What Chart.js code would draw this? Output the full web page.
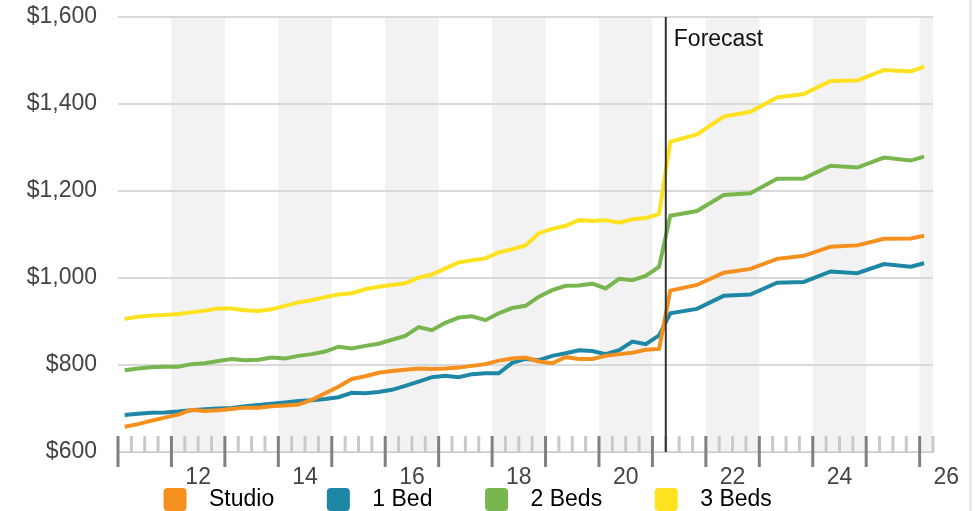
<!DOCTYPE html>
<html>
<head>
<meta charset="utf-8">
<script src="https://cdn.jsdelivr.net/npm/chart.js@4"></script>
<style>
  html, body { margin: 0; padding: 0; background: #fff; overflow: hidden; }
  #wrap { position: relative; width: 978px; height: 511px; overflow: hidden; }
  #edge { position: absolute; left: 969px; top: 0; width: 3px; height: 511px; background: #e9e9e9; }
</style>
</head>
<body>
<div id="wrap">
  <canvas id="rentChart" width="978" height="521"></canvas>
  <div id="edge"></div>
</div>
<script>
// periods as decimal years ('11 = 2011), quarterly history then half-yearly forecast
const periods = [
  11.125, 11.375, 11.625, 11.875, 12.125, 12.375, 12.625, 12.875,
  13.125, 13.375, 13.625, 13.875, 14.125, 14.375, 14.625, 14.875,
  15.125, 15.375, 15.625, 15.875, 16.125, 16.375, 16.625, 16.875,
  17.125, 17.375, 17.625, 17.875, 18.125, 18.375, 18.625, 18.875,
  19.125, 19.375, 19.625, 19.875, 20.125, 20.375, 20.625, 20.875, 21.125,
  21.333, 21.833, 22.333, 22.833, 23.333, 23.833, 24.333, 24.833, 25.333, 25.833, 26.083
];

const studio = [
  658, 664, 672, 679, 686, 697, 694, 696, 699, 702, 702, 705, 707, 709, 720, 735, 750, 768, 774, 782, 786,
  789, 792, 791, 792, 794, 798, 802, 810, 815, 817, 808, 804, 818, 814, 814, 821, 825, 828, 835, 837,
  971, 984, 1012, 1021, 1044, 1051, 1072, 1075, 1090, 1091, 1097
];
const oneBed = [
  685, 688, 690, 691, 693, 696, 698, 700, 701, 705, 708, 711, 714, 717, 719, 722, 726, 736, 735, 738, 743,
  752, 762, 772, 775, 772, 779, 781, 781, 805, 814, 811, 821, 827, 834, 832, 825, 834, 854, 848, 868,
  919, 929, 959, 962, 989, 991, 1015, 1011, 1032, 1026, 1034
];
const twoBeds = [
  788, 792, 795, 796, 796, 802, 804, 809, 814, 811, 812, 817, 815, 821, 825, 831, 842, 838, 844, 849, 858,
  867, 887, 880, 897, 909, 912, 903, 919, 931, 936, 957, 972, 982, 983, 987, 976, 998, 995, 1005, 1026,
  1143, 1154, 1191, 1195, 1228, 1229, 1258, 1254, 1277, 1270, 1279
];
const threeBeds = [
  906, 911, 914, 915, 917, 921, 925, 930, 930, 926, 924, 928, 936, 944, 949, 956, 962, 965, 974, 980, 984,
  988, 1001, 1008, 1022, 1036, 1041, 1045, 1059, 1066, 1075, 1103, 1113, 1120, 1133, 1131, 1133, 1127, 1135, 1138, 1147,
  1313, 1330, 1371, 1382, 1415, 1423, 1453, 1454, 1478, 1475, 1486
];

const seriesNames = ["Studio", "1 Bed", "2 Beds", "3 Beds"];
const seriesColors = ["#f5901f", "#1f87a6", "#7ab650", "#fee11f"];

const xMin = 11, xMax = 26.25;
const yearLabelsAt = [12.5, 14.5, 16.5, 18.5, 20.5, 22.5, 24.5, 26.5];
const shadedYears = [12, 14, 16, 18, 20, 22, 24, 26];
const yTicks = [600, 800, 1000, 1200, 1400, 1600];
const forecastStart = 21.25;

const FONT = "'Liberation Sans', Arial, Helvetica, sans-serif";

// grey year bands (under the grid), quarter ticks and forecast marker
const decorations = {
  id: 'decorations',
  beforeDraw(chart) {
    const { ctx, chartArea: a, scales: { x } } = chart;
    ctx.save();
    ctx.fillStyle = '#f2f2f2';
    shadedYears.forEach(yr => {
      const l = Math.max(x.getPixelForValue(yr), a.left);
      const r = Math.min(x.getPixelForValue(yr + 1), a.right);
      if (r > l) ctx.fillRect(l, a.top, r - l, a.bottom - a.top);
    });
    ctx.restore();
  },
  afterDatasetsDraw(chart) {
    const { ctx, chartArea: a, scales: { x } } = chart;
    ctx.save();
    ctx.lineWidth = 3;
    for (let q = xMin * 4; q <= xMax * 4; q++) {
      const px = x.getPixelForValue(q / 4);
      const major = q % 4 === 0;
      ctx.strokeStyle = major ? '#808080' : '#c9c9c9';
      ctx.beginPath();
      ctx.moveTo(px, a.bottom - 16);
      ctx.lineTo(px, major ? a.bottom + 15 : a.bottom);
      ctx.stroke();
    }
    const fx = x.getPixelForValue(forecastStart);
    ctx.strokeStyle = '#333';
    ctx.lineWidth = 2;
    ctx.beginPath();
    ctx.moveTo(fx, a.top);
    ctx.lineTo(fx, a.bottom);
    ctx.stroke();
    ctx.fillStyle = '#111';
    ctx.font = '23px ' + FONT;
    ctx.textBaseline = 'alphabetic';
    ctx.fillText('Forecast', fx + 8, a.top + 29);
    ctx.restore();
  }
};

const allSeries = [studio, oneBed, twoBeds, threeBeds];

new Chart(document.getElementById('rentChart'), {
  type: 'line',
  data: {
    datasets: allSeries.map((vals, i) => ({
      label: seriesNames[i],
      data: periods.map((p, j) => ({ x: p, y: vals[j] })),
      borderColor: seriesColors[i],
      backgroundColor: seriesColors[i],
      borderWidth: 4,
      pointRadius: 0,
      tension: 0,
      fill: false
    }))
  },
  options: {
    responsive: false,
    animation: false,
    layout: { padding: { left: 8, top: 17, right: 0, bottom: 0 } },
    plugins: {
      tooltip: { enabled: false },
      legend: {
        position: 'bottom',
        labels: {
          font: { family: FONT, size: 23 },
          color: '#111',
          boxWidth: 23,
          boxHeight: 23,
          padding: 2,
          generateLabels: chart => chart.data.datasets.map((ds, i) => ({
            text: ' \u2009' + ds.label + '\u2003\u2003\u2009',
            fillStyle: ds.borderColor,
            strokeStyle: ds.borderColor,
            lineWidth: 0,
            borderRadius: 4,
            datasetIndex: i,
            hidden: false
          })),
          useBorderRadius: true,
          borderRadius: 4
        }
      }
    },
    scales: {
      x: {
        type: 'linear',
        min: xMin,
        max: xMax,
        afterBuildTicks: s => { s.ticks = yearLabelsAt.map(v => ({ value: v })); },
        afterFit: s => { s.height = 34; },
        grid: { display: false, drawTicks: false },
        border: { display: true, color: '#cccccc', width: 1 },
        ticks: {
          autoSkip: false,
          maxRotation: 0,
          padding: 12,
          color: '#444',
          font: { family: FONT, size: 23 },
          callback: v => String(Math.floor(v))
        }
      },
      y: {
        min: 600,
        max: 1600,
        afterBuildTicks: s => { s.ticks = yTicks.map(v => ({ value: v })); },
        afterFit: s => { s.width = 110; },
        grid: { color: '#d9d9d9', lineWidth: 2, drawTicks: true, tickLength: 21, tickColor: 'rgba(0,0,0,0)' },
        border: { display: false },
        ticks: {
          padding: 0,
          color: '#444',
          font: { family: FONT, size: 23 },
          callback: v => '$' + v.toLocaleString('en-US')
        }
      },
      yRight: {
        position: 'right',
        display: true,
        min: 600,
        max: 1600,
        afterFit: s => { s.width = 45; },
        grid: { display: false, drawTicks: false },
        border: { display: false },
        ticks: { display: false }
      }
    }
  },
  plugins: [decorations]
});
</script>
</body>
</html>
